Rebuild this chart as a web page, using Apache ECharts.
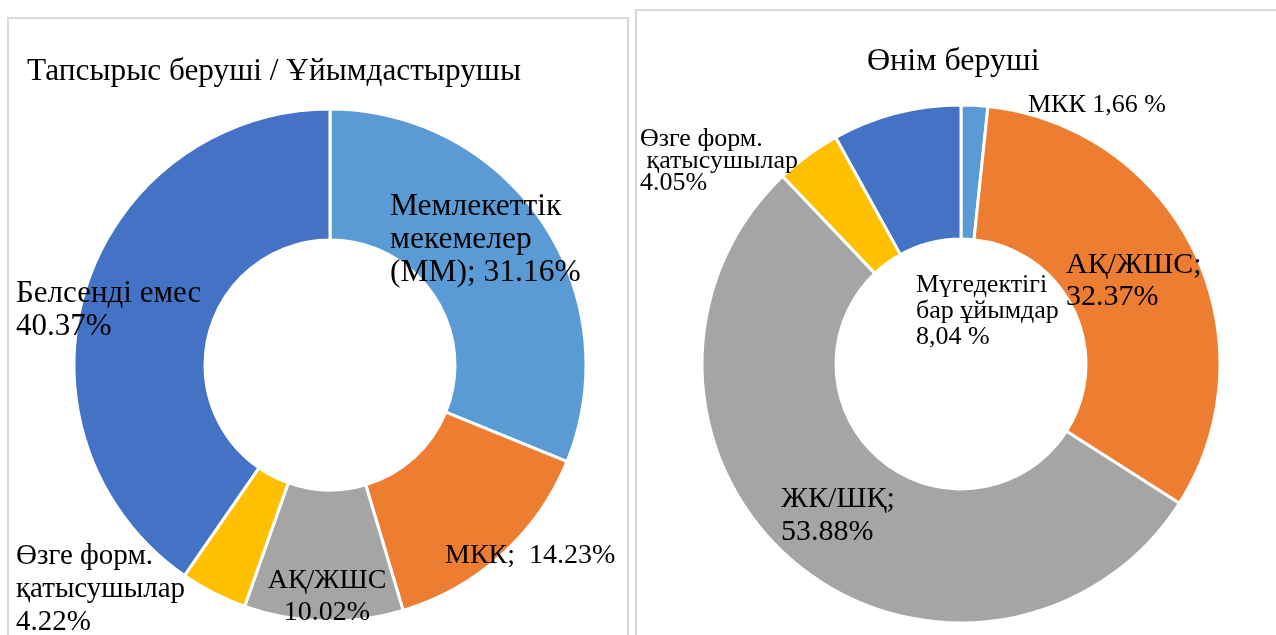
<!DOCTYPE html>
<html>
<head>
<meta charset="utf-8">
<script src="https://cdn.jsdelivr.net/npm/echarts@6/dist/echarts.min.js"></script>
<style>
  html, body { margin: 0; padding: 0; background: #fff; }
  #chart { width: 1276px; height: 635px; }
</style>
</head>
<body>
<div id="chart"></div>
<script>
// данные левой диаграммы
var leftNames = ['Мемлекеттік мекемелер (ММ)', 'МКК', 'АҚ/ЖШС', 'Өзге форм. қатысушылар', 'Белсенді емес']
var leftValues = [31.16, 14.23, 10.02, 4.22, 40.37]
var leftLabels = ['Мемлекеттік\nмекемелер\n(ММ); {v}%', 'МКК;  {v}%', 'АҚ/ЖШС\n{v}%', 'Өзге форм.\nқатысушылар\n{v}%', 'Белсенді емес\n{v}%']

// данные правой диаграммы
var rightNames = ['МКК', 'АҚ/ЖШС', 'ЖК/ШҚ', 'Өзге форм. қатысушылар', 'Мүгедектігі бар ұйымдар']
var rightValues = [1.66, 32.37, 53.88, 4.05, 8.04]
var rightLabels = ['МКК {v} %', 'АҚ/ЖШС;\n{v}%', 'ЖК/ШҚ;\n{v}%', 'Өзге форм.\n қатысушылар\n{v}%', 'Мүгедектігі\nбар ұйымдар\n{v} %']
var rightComma = [true, false, false, false, true]

var colors = ['#5B9BD5', '#ED7D31', '#A5A5A5', '#FFC000', '#4472C4']
var font = '"Liberation Serif", "Times New Roman", serif'

// позиции подписей (левый верхний угол блока текста)
var leftLabelPos = [[390, 190], [445, 540], [327, 565], [16, 540], [16, 277]]
var leftLabelAlign = ['left', 'left', 'center', 'left', 'left']
var leftFont = [31.5, 28, 28, 29, 31]
var leftLineH = [33, 32, 32, 33, 33]
var rightLabelPos = [[1028, 92], [1066, 249], [781, 483], [640, 128], [916, 272]]
var rightFont = [26, 30, 30, 26, 26]
var rightLineH = [26, 32, 33, 22, 26]

function fmt(tpl, v, comma) {
  var s = v.toFixed(2)
  if (comma) s = s.replace('.', ',')
  return tpl.replace('{v}', s)
}

var leftData = leftValues.map(function (v, i) {
  return {
    name: leftNames[i],
    value: v,
    itemStyle: { color: colors[i] },
    label: {
      formatter: fmt(leftLabels[i], v, false),
      align: leftLabelAlign[i],
      fontSize: leftFont[i],
      lineHeight: leftLineH[i]
    }
  }
})
var rightData = rightValues.map(function (v, i) {
  return {
    name: rightNames[i],
    value: v,
    itemStyle: { color: colors[i] },
    label: {
      formatter: fmt(rightLabels[i], v, rightComma[i]),
      fontSize: rightFont[i],
      lineHeight: rightLineH[i]
    }
  }
})

var chart = echarts.init(document.getElementById('chart'))
chart.setOption({
  animation: false,
  title: [{
    text: 'Тапсырыс беруші / Ұйымдастырушы',
    left: 22,
    top: 51,
    textStyle: { fontFamily: font, fontSize: 31.3, fontWeight: 'normal', color: '#000' }
  }, {
    text: 'Өнім беруші',
    left: 862,
    top: 41,
    textStyle: { fontFamily: font, fontSize: 32, fontWeight: 'normal', color: '#000' }
  }],
  graphic: [{
    type: 'rect',
    shape: { x: 8, y: 18, width: 620, height: 640 },
    style: { fill: 'none', stroke: '#D9D9D9', lineWidth: 2 },
    z: -1
  }, {
    type: 'rect',
    shape: { x: 636, y: 10, width: 660, height: 650 },
    style: { fill: 'none', stroke: '#D9D9D9', lineWidth: 2 },
    z: -1
  }],
  series: [{
    type: 'pie',
    center: [330, 365],
    radius: [125, 256],
    startAngle: 90,
    clockwise: true,
    itemStyle: { borderColor: '#fff', borderWidth: 3 },
    label: {
      show: true,
      position: 'outside',
      fontFamily: font,
      color: '#000',
      width: 400,
      overflow: 'none'
    },
    labelLine: { show: false },
    labelLayout: function (p) {
      var pos = leftLabelPos[p.dataIndex]
      return { x: pos[0], y: pos[1], align: leftLabelAlign[p.dataIndex], verticalAlign: 'top' }
    },
    data: leftData
  }, {
    type: 'pie',
    center: [961, 364],
    radius: [125, 259],
    startAngle: 90,
    clockwise: true,
    itemStyle: { borderColor: '#fff', borderWidth: 3 },
    label: {
      show: true,
      position: 'outside',
      fontFamily: font,
      color: '#000',
      width: 400,
      overflow: 'none'
    },
    labelLine: { show: false },
    labelLayout: function (p) {
      var pos = rightLabelPos[p.dataIndex]
      return { x: pos[0], y: pos[1], align: 'left', verticalAlign: 'top' }
    },
    data: rightData
  }]
})
</script>
</body>
</html>
